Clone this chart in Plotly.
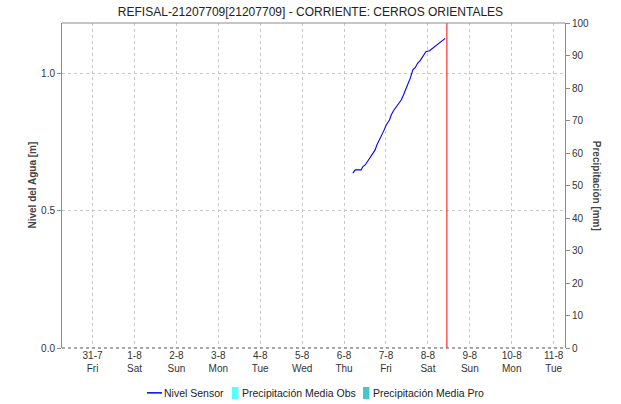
import plotly.graph_objects as go

# Water level readings (timestamp, metres)
level_time = [
    "2020-08-06 05:02", "2020-08-06 06:22", "2020-08-06 09:48", "2020-08-06 10:46",
    "2020-08-06 12:06", "2020-08-06 13:58", "2020-08-06 15:55", "2020-08-06 17:48",
    "2020-08-06 18:47", "2020-08-06 20:17", "2020-08-06 21:39", "2020-08-06 22:58",
    "2020-08-07 00:07", "2020-08-07 02:01", "2020-08-07 02:59", "2020-08-07 04:18",
    "2020-08-07 06:14", "2020-08-07 08:43", "2020-08-07 10:01", "2020-08-07 10:59",
    "2020-08-07 12:19", "2020-08-07 13:52", "2020-08-07 15:24", "2020-08-07 16:43",
    "2020-08-07 18:03", "2020-08-07 19:35", "2020-08-07 21:08", "2020-08-07 22:51",
    "2020-08-08 00:55", "2020-08-08 03:13", "2020-08-08 05:30", "2020-08-08 08:01",
    "2020-08-08 09:55",
]
level_m = [
    0.638, 0.650, 0.650, 0.662, 0.668, 0.686, 0.704, 0.723, 0.741, 0.759, 0.777,
    0.796, 0.814, 0.832, 0.850, 0.866, 0.883, 0.905, 0.923, 0.942, 0.960, 0.984,
    1.015, 1.023, 1.039, 1.049, 1.066, 1.081, 1.085, 1.097, 1.109, 1.122, 1.130,
]

# Daily precipitation (mm)
precip_days = [
    "2020-07-31", "2020-08-01", "2020-08-02", "2020-08-03", "2020-08-04", "2020-08-05",
    "2020-08-06", "2020-08-07", "2020-08-08", "2020-08-09", "2020-08-10", "2020-08-11",
]
precip_obs = [0, 0, 0, 0, 0, 0, 0, 0, 0, 0, 0, 0]
precip_pro = [0, 0, 0, 0, 0, 0, 0, 0, 0, 0, 0, 0]

# Day ticks
tick_days = precip_days
tick_text = [
    "31-7<br>Fri", "1-8<br>Sat", "2-8<br>Sun", "3-8<br>Mon", "4-8<br>Tue", "5-8<br>Wed",
    "6-8<br>Thu", "7-8<br>Fri", "8-8<br>Sat", "9-8<br>Sun", "10-8<br>Mon", "11-8<br>Tue",
]

x_range = ["2020-07-30 06:30", "2020-08-11 06:30"]
now_mark = "2020-08-08 10:52"

series_names = ["Nivel Sensor", "Precipitación Media Obs", "Precipitación Media Pro"]
series_colors = ["#0000ff", "#55ffff", "#44c8c8"]

FONT = "Liberation Sans, Arial, sans-serif"
AXIS_GRAY = "#8c8c8c"

fig = go.Figure()

fig.add_trace(go.Scatter(
    x=level_time, y=level_m, mode="lines", name=series_names[0],
    line=dict(color=series_colors[0], width=1.1), yaxis="y",
))
fig.add_trace(go.Bar(
    x=precip_days, y=precip_obs, name=series_names[1],
    marker=dict(color=series_colors[1]), yaxis="y2",
))
fig.add_trace(go.Bar(
    x=precip_days, y=precip_pro, name=series_names[2],
    marker=dict(color=series_colors[2]), yaxis="y2",
))

# Current time marker
fig.add_shape(type="line", xref="x", yref="paper", x0=now_mark, x1=now_mark,
              y0=0, y1=1, line=dict(color="#ff0000", width=1))
# Top border and dotted baseline
fig.add_shape(type="line", xref="paper", yref="paper", x0=0, x1=1, y0=1, y1=1,
              line=dict(color=AXIS_GRAY, width=1))
fig.add_shape(type="line", xref="paper", yref="paper", x0=0, x1=1, y0=0, y1=0,
              line=dict(color="#555555", width=1, dash="dot"))

# Compact legend row below the plot
LEG_Y = -0.138
legend_font = dict(family=FONT, size=10.5, color="#222222")
fig.add_shape(type="line", xref="paper", yref="paper", x0=0.1690, x1=0.1988,
              y0=LEG_Y, y1=LEG_Y, line=dict(color=series_colors[0], width=1.5))
fig.add_annotation(text=series_names[0], xref="paper", yref="paper", x=0.1988, y=LEG_Y,
                   xanchor="left", yanchor="middle", showarrow=False, font=legend_font)
fig.add_shape(type="rect", xref="paper", yref="paper", x0=0.3380, x1=0.3509,
              y0=-0.157, y1=-0.12, line=dict(width=0), fillcolor=series_colors[1])
fig.add_annotation(text=series_names[1], xref="paper", yref="paper", x=0.3539, y=LEG_Y,
                   xanchor="left", yanchor="middle", showarrow=False, font=legend_font)
fig.add_shape(type="rect", xref="paper", yref="paper", x0=0.5984, x1=0.6113,
              y0=-0.157, y1=-0.12, line=dict(width=0), fillcolor=series_colors[2])
fig.add_annotation(text=series_names[2], xref="paper", yref="paper", x=0.6143, y=LEG_Y,
                   xanchor="left", yanchor="middle", showarrow=False, font=legend_font)

# Axis titles
fig.add_annotation(
    text="<b>Precipitación [mm]</b>", xref="paper", yref="paper", x=1.063, y=0.5,
    xanchor="center", yanchor="middle", textangle=90, showarrow=False,
    font=dict(family=FONT, size=10, color="#444444"),
)
fig.add_annotation(
    text="<b>Nivel del Agua [m]</b>", xref="paper", yref="paper", x=-0.0596, y=0.5,
    xanchor="center", yanchor="middle", textangle=-90, showarrow=False,
    font=dict(family=FONT, size=10, color="#444444"),
)

fig.update_layout(
    width=621, height=404,
    margin=dict(l=62, r=56, t=23, b=56, autoexpand=False),
    paper_bgcolor="white", plot_bgcolor="white",
    font=dict(family=FONT, size=10, color="#333333"),
    title=dict(text="REFISAL-21207709[21207709] - CORRIENTE: CERROS ORIENTALES",
               x=0.5, xanchor="center", y=0.972, yanchor="middle",
               font=dict(family=FONT, size=12, color="#222222")),
    showlegend=False,
    bargap=0.2,
    xaxis=dict(
        type="date", range=x_range, tickmode="array", tickvals=tick_days, ticktext=tick_text,
        showgrid=True, gridcolor="#c8c8c8", griddash="3px,3px", gridwidth=1,
        showline=False, zeroline=False, ticks="", automargin=False,
        tickfont=dict(size=10, color="#333333"),
    ),
    yaxis=dict(
        range=[0, 1.186], tickmode="array", tickvals=[0, 0.5, 1.0],
        ticktext=["0.0", "0.5", "1.0"], automargin=False,
        showgrid=True, gridcolor="#c8c8c8", griddash="3px,3px", gridwidth=1,
        showline=True, linecolor=AXIS_GRAY, linewidth=1, zeroline=False,
        ticks="outside", ticklen=4, tickcolor=AXIS_GRAY,
    ),
    yaxis2=dict(
        overlaying="y", side="right", range=[0, 100], tickmode="array",
        tickvals=list(range(0, 101, 10)), showgrid=False, zeroline=False,
        showline=True, linecolor=AXIS_GRAY, linewidth=1, automargin=False,
        ticks="outside", ticklen=4, tickcolor=AXIS_GRAY,
    ),
)

fig.write_html("out.html")
